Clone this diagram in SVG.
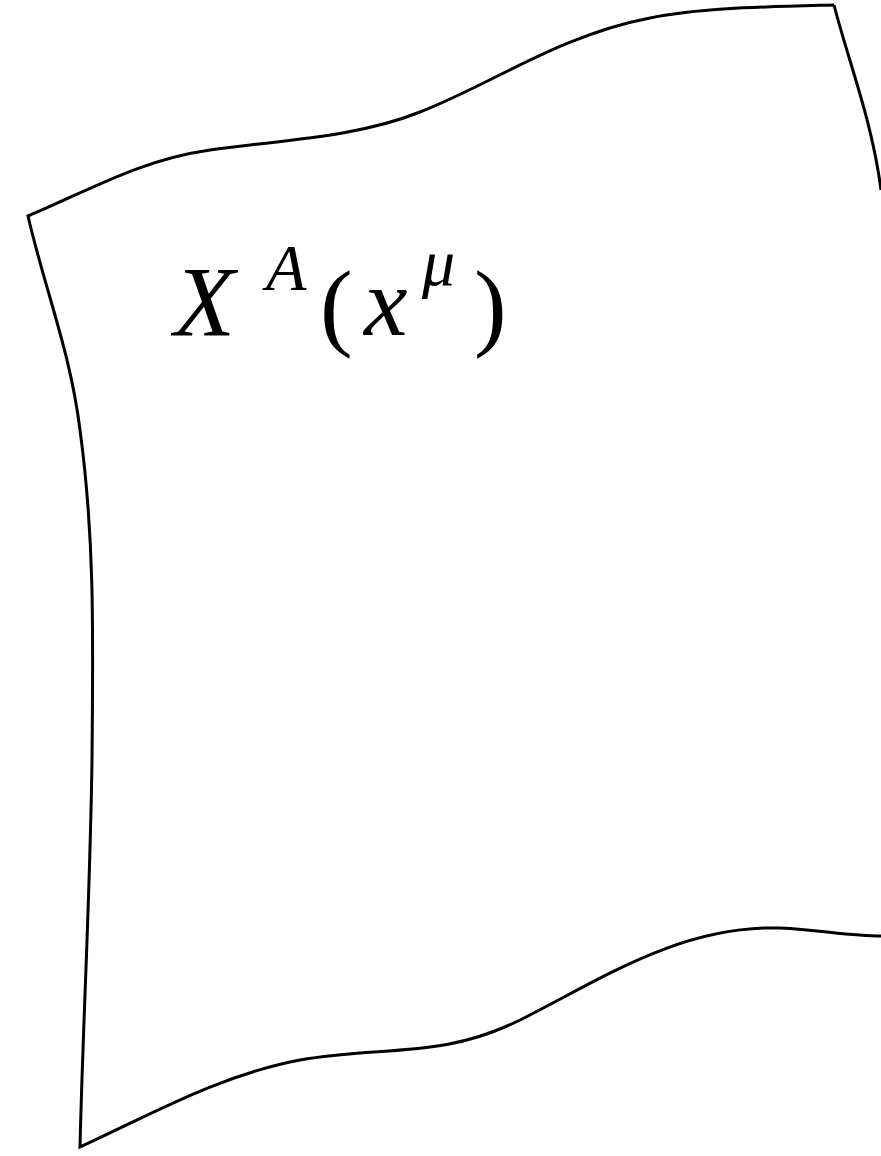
<svg xmlns="http://www.w3.org/2000/svg" width="881" height="1156" viewBox="0 0 881 1156">
<style>
.edge{fill:none;stroke:#000;stroke-width:3;stroke-linejoin:miter}
.m{font-family:"Liberation Serif","DejaVu Serif",serif;font-style:italic;fill:#000}
.r{font-family:"Liberation Serif","DejaVu Serif",serif;fill:#000}
</style>
<rect width="881" height="1156" fill="#fff"/>
<g id="sheet">
<path class="edge" d="M834,5 C848,60 872,120 881,190"/>
<path class="edge" d="M834,5 C760,7 700,8 650,18 C560,35 490,85 420,112 C355,138 280,140 210,150 C140,160 90,190 28,216 C45,290 70,350 80,430 C95,540 93,640 92,760 C90,900 83,1020 80,1147 C150,1115 220,1075 300,1060 C380,1045 440,1060 520,1020 C600,980 680,925 780,928 C820,930 850,936 881,936"/>
</g>
<g id="label">
<text class="m" x="174" y="335" font-size="100">X</text>
<text class="m" x="266" y="290" font-size="66">A</text>
<text class="r" x="320" y="338" font-size="98">(</text>
<text class="m" x="364" y="335" font-size="98">x</text>
<text class="m" x="422" y="285" font-size="66">μ</text>
<text class="r" x="474" y="338" font-size="98">)</text>
</g>
</svg>
